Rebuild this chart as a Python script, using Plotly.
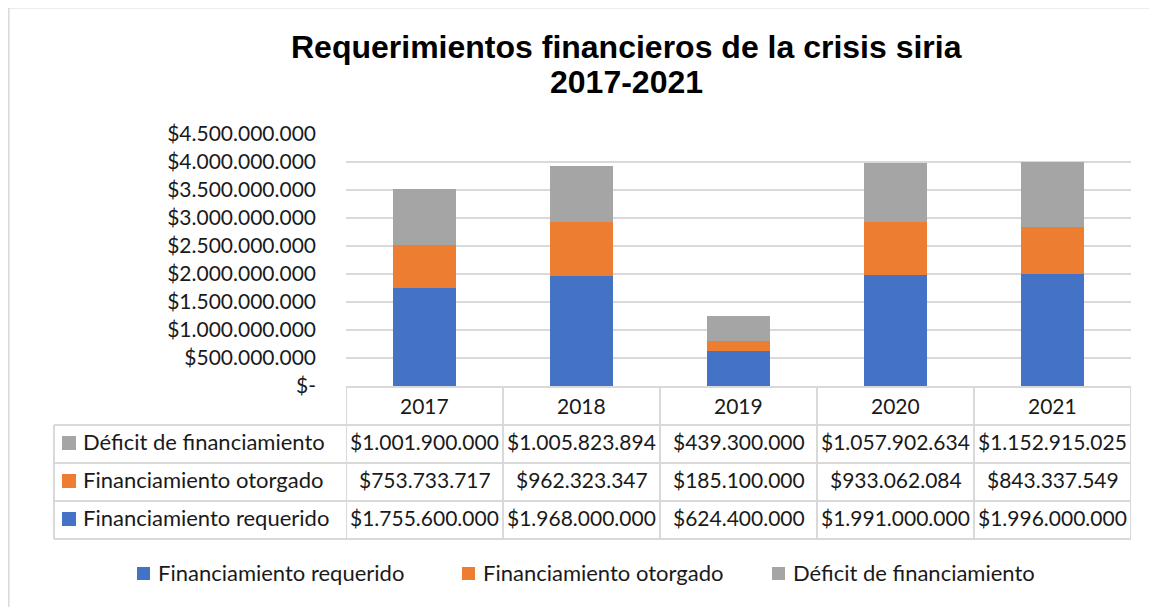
import plotly.graph_objects as go

# ── Data ──────────────────────────────────────────────────────────────────────
years = ["2017", "2018", "2019", "2020", "2021"]
requerido = [1755600000, 1968000000, 624400000, 1991000000, 1996000000]
otorgado = [753733717, 962323347, 185100000, 933062084, 843337549]
deficit = [1001900000, 1005823894, 439300000, 1057902634, 1152915025]

series_names = ["Financiamiento requerido", "Financiamiento otorgado", "Déficit de financiamiento"]
y_ticks = [0, 500e6, 1000e6, 1500e6, 2000e6, 2500e6, 3000e6, 3500e6, 4000e6, 4500e6]

# ── Style ─────────────────────────────────────────────────────────────────────
# page coordinates below; the page body has an 8px margin, so figure = page - 8
OFF = 8
PAGE_W, PAGE_H = 1157, 607
W, H = PAGE_W - OFF, PAGE_H - OFF
PLOT_L, PLOT_R, PLOT_T, PLOT_B = 346, 1131, 134, 386
FONT = "Lato"
TXT = "#1a1a1a"
GRID = "#d9d9d9"
COLORS = {
    "Financiamiento requerido": "#4472C4",
    "Financiamiento otorgado": "#ED7D31",
    "Déficit de financiamiento": "#A5A5A5",
}
NUM_SIZE = 21
LBL_SIZE = 22


def px(x):
    """page pixel x -> paper x"""
    return (x - PLOT_L) / (PLOT_R - PLOT_L)


def py(y):
    """page pixel y -> paper y"""
    return (PLOT_B - y) / (PLOT_B - PLOT_T)


def money(v):
    if v == 0:
        return "$-"
    return "$" + f"{v:,.0f}".replace(",", ".")


fig = go.Figure()
for name, vals in zip(series_names, [requerido, otorgado, deficit]):
    fig.add_trace(go.Bar(
        x=years, y=vals, name=name,
        marker=dict(color=COLORS[name], line=dict(width=0)),
        width=0.4,
    ))

shapes = []
annotations = []

# chart border
shapes.append(dict(type="rect", xref="paper", yref="paper",
                   x0=px(8.8), x1=px(1170), y0=py(7.8), y1=py(620),
                   line=dict(color=GRID, width=1.5), layer="below"))

# title
annotations.append(dict(x=px(626), xref="paper", y=py(47), yref="paper", xanchor="center", yanchor="middle",
                        text="<b>Requerimientos financieros de la crisis siria</b>", showarrow=False,
                        font=dict(family="Liberation Sans, Arial", size=32, color="#000000")))
annotations.append(dict(x=px(626), xref="paper", y=py(82), yref="paper", xanchor="center", yanchor="middle",
                        text="<b>2017-2021</b>", showarrow=False,
                        font=dict(family="Liberation Sans, Arial", size=32, color="#000000")))

# data table
row_lines = [387, 425, 463, 501, 539]
row_names = ["Déficit de financiamiento", "Financiamiento otorgado", "Financiamiento requerido"]
row_vals = [deficit, otorgado, requerido]
tbl_left = 54
TEXT_UP = 3  # Excel draws table text slightly above the cell middle

shapes.append(dict(type="line", xref="paper", yref="paper",
                   x0=px(PLOT_L), x1=px(PLOT_R), y0=py(row_lines[0]), y1=py(row_lines[0]),
                   line=dict(color=GRID, width=2)))
for yl in row_lines[1:]:
    shapes.append(dict(type="line", xref="paper", yref="paper",
                       x0=px(tbl_left), x1=px(PLOT_R), y0=py(yl), y1=py(yl),
                       line=dict(color=GRID, width=2)))
shapes.append(dict(type="line", xref="paper", yref="paper",
                   x0=px(tbl_left), x1=px(tbl_left), y0=py(row_lines[1]), y1=py(row_lines[-1]),
                   line=dict(color=GRID, width=2)))
for i in range(len(years) + 1):
    shapes.append(dict(type="line", xref="x", yref="paper",
                       x0=i - 0.5, x1=i - 0.5, y0=py(row_lines[0]), y1=py(row_lines[-1]),
                       line=dict(color=GRID, width=2)))

# header years
for i, yr in enumerate(years):
    annotations.append(dict(x=i, xref="x", y=py((row_lines[0] + row_lines[1]) / 2 - 1), yref="paper",
                            xanchor="center", yanchor="middle",
                            text=yr, showarrow=False, font=dict(family=FONT, size=NUM_SIZE, color=TXT)))

# rows
for r, (nm, vals) in enumerate(zip(row_names, row_vals)):
    yc = (row_lines[r + 1] + row_lines[r + 2]) / 2
    shapes.append(dict(type="rect", xref="paper", yref="paper",
                       x0=px(62), x1=px(76), y0=py(yc - 8), y1=py(yc + 6),
                       fillcolor=COLORS[nm], line=dict(width=0)))
    annotations.append(dict(x=px(81), xref="paper", y=py(yc - TEXT_UP), yref="paper",
                            xanchor="left", yanchor="middle",
                            text=nm, showarrow=False, font=dict(family=FONT, size=LBL_SIZE, color=TXT)))
    for i, v in enumerate(vals):
        annotations.append(dict(x=i, xref="x", y=py(yc - TEXT_UP), yref="paper",
                                xanchor="center", yanchor="middle",
                                text=money(v), showarrow=False,
                                font=dict(family=FONT, size=NUM_SIZE, color=TXT)))

# legend (bottom)
leg_x = [143, 468, 778]
leg_y = 573
for xs, nm in zip(leg_x, series_names):
    shapes.append(dict(type="rect", xref="paper", yref="paper",
                       x0=px(xs - 6), x1=px(xs + 7), y0=py(leg_y - 6), y1=py(leg_y + 7),
                       fillcolor=COLORS[nm], line=dict(width=0)))
    annotations.append(dict(x=px(xs + 13), xref="paper", y=py(leg_y - 1), yref="paper",
                            xanchor="left", yanchor="middle",
                            text=nm, showarrow=False, font=dict(family=FONT, size=LBL_SIZE, color=TXT)))

fig.update_layout(
    width=W, height=H,
    barmode="stack",
    showlegend=False,
    plot_bgcolor="white", paper_bgcolor="white",
    margin=dict(l=PLOT_L - OFF, r=PAGE_W - PLOT_R, t=PLOT_T - OFF, b=PAGE_H - PLOT_B, pad=0),
    font=dict(family=FONT, size=NUM_SIZE, color=TXT),
    xaxis=dict(type="category", showticklabels=False, showgrid=False, zeroline=False, range=[-0.5, 4.5]),
    yaxis=dict(range=[0, 4.5e9], tickvals=y_ticks, ticktext=[money(v) for v in y_ticks],
               gridcolor=GRID, gridwidth=1.5, zeroline=False, showline=False,
               ticklabelstandoff=29, tickfont=dict(family=FONT, size=NUM_SIZE, color=TXT)),
    shapes=shapes,
    annotations=annotations,
)

fig.write_html("out.html")
